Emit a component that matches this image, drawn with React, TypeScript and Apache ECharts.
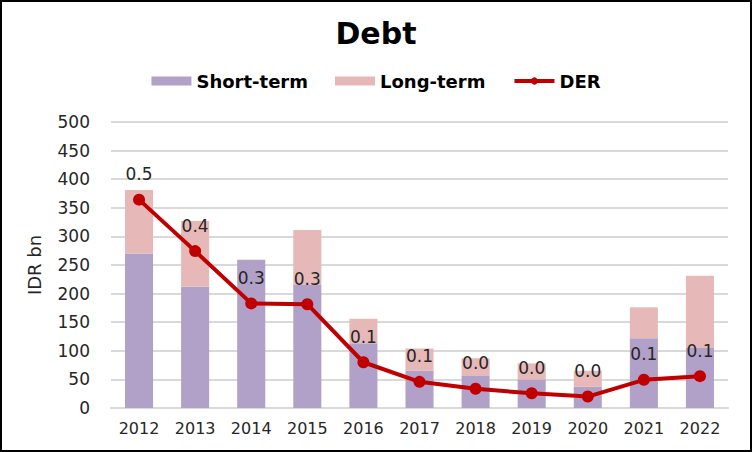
import React, { useEffect, useRef } from "react";
import * as echarts from "echarts";

const years = ["2012", "2013", "2014", "2015", "2016", "2017", "2018", "2019", "2020", "2021", "2022"];
const shortTerm = [270, 212, 259, 215, 113, 65, 56, 50, 37, 122, 105];
const longTerm = [111, 115, 0, 96, 43, 39, 31, 28, 28, 54, 126];
const der = [0.51, 0.384, 0.256, 0.254, 0.112, 0.064, 0.047, 0.036, 0.028, 0.069, 0.078];

const FONT = "DejaVu Sans";

export default function App() {
  const ref = useRef<HTMLDivElement>(null);
  useEffect(() => {
    document.body.style.margin = "0";
    const chart = echarts.init(ref.current!, null, { renderer: "svg" });
    chart.setOption({
      animation: false,
      backgroundColor: "#ffffff",
      textStyle: { fontFamily: FONT },
      title: {
        text: "Debt",
        left: "center",
        top: 13,
        textStyle: { fontSize: 30, fontWeight: "bold", color: "#000000", fontFamily: FONT },
      },
      legend: {
        top: 72,
        left: "center",
        padding: 0,
        itemWidth: 40,
        itemHeight: 9,
        itemGap: 27,
        textStyle: { fontSize: 18, fontWeight: "bold", color: "#000000", fontFamily: FONT },
        data: [
          { name: "Short-term", icon: "rect" },
          { name: "Long-term", icon: "rect" },
          { name: "DER", lineStyle: { width: 4, color: "#C00000" }, itemStyle: { color: "#C00000" } },
        ],
      },
      grid: { left: 111, right: 24, top: 122, bottom: 44, containLabel: false },
      xAxis: {
        type: "category",
        data: years,
        axisLine: { show: true, lineStyle: { color: "#d9d9d9", width: 2 } },
        axisTick: { show: false },
        axisLabel: { color: "#262626", fontSize: 16, margin: 12, fontFamily: FONT },
      },
      yAxis: [
        {
          type: "value",
          min: 0,
          max: 500,
          interval: 50,
          name: "IDR bn",
          nameLocation: "middle",
          nameGap: 68,
          nameTextStyle: { fontSize: 18, color: "#262626", fontFamily: FONT },
          axisLine: { show: false },
          axisTick: { show: false },
          axisLabel: { color: "#262626", fontSize: 17, margin: 21, fontFamily: FONT },
          splitLine: { lineStyle: { color: "#d9d9d9", width: 2 } },
        },
        { type: "value", min: 0, max: 0.7, show: false, splitLine: { show: false } },
      ],
      series: [
        {
          name: "Short-term",
          type: "bar",
          stack: "debt",
          data: shortTerm,
          barCategoryGap: "50%",
          itemStyle: { color: "#B1A0C7" },
        },
        {
          name: "Long-term",
          type: "bar",
          stack: "debt",
          data: longTerm,
          barCategoryGap: "50%",
          itemStyle: { color: "#E6B8B7" },
        },
        {
          name: "DER",
          type: "line",
          yAxisIndex: 1,
          data: der,
          z: 5,
          symbol: "circle",
          symbolSize: 12,
          lineStyle: { color: "#C00000", width: 4 },
          itemStyle: { color: "#C00000" },
          label: {
            show: true,
            position: "top",
            distance: 11,
            fontSize: 17,
            color: "#262626",
            fontFamily: FONT,
            formatter: (p: any) => Number(p.value).toFixed(1),
          },
        },
      ],
      graphic: [
        {
          type: "rect",
          shape: { x: 1, y: 1, width: 750, height: 450 },
          style: { fill: "none", stroke: "#000000", lineWidth: 2 },
          z: 100,
          silent: true,
        },
      ],
    });
    return () => chart.dispose();
  }, []);
  return <div ref={ref} style={{ width: 752, height: 452 }} />;
}
